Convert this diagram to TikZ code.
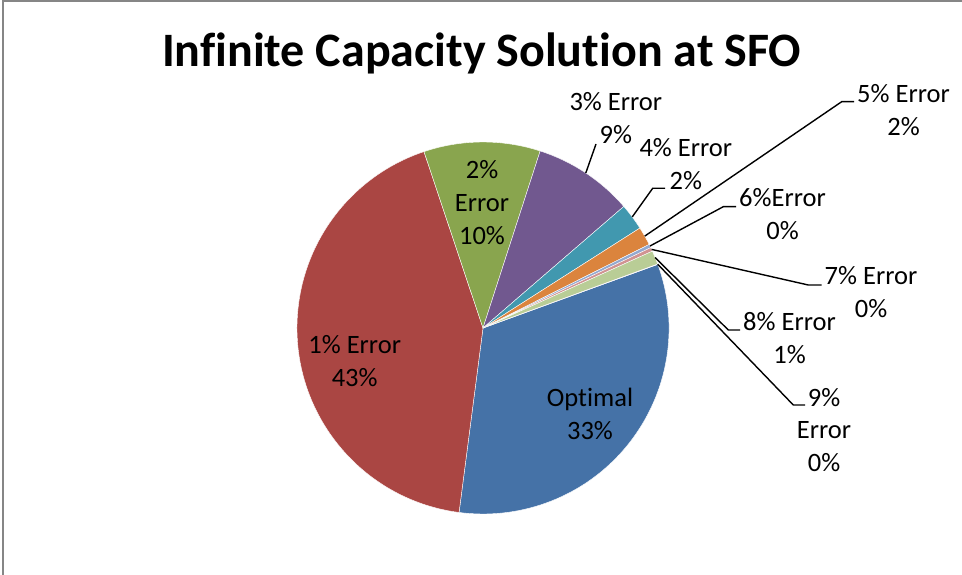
\documentclass[tikz,border=0pt]{standalone}
\usepackage{fontspec}
\setmainfont{Carlito}[Ligatures=NoCommon]
\definecolor{cBlue}{HTML}{4572A7}
\definecolor{cRed}{HTML}{AA4643}
\definecolor{cGreen}{HTML}{89A54E}
\definecolor{cPurple}{HTML}{71588F}
\definecolor{cTeal}{HTML}{4198AF}
\definecolor{cOrange}{HTML}{DB843D}
\definecolor{cLBlue}{HTML}{93A9CF}
\definecolor{cPink}{HTML}{D19392}
\definecolor{cLGreen}{HTML}{B9CD96}
\definecolor{cLPurple}{HTML}{A99BBD}
\definecolor{frame}{HTML}{868686}
\newcommand{\pieslice}[3]{%
  \fill[#3, draw=white, line width=0.4pt] (pc) -- ++(#1:186) arc[start angle=#1, end angle=#2, radius=186] -- cycle;}
\begin{document}
\begin{tikzpicture}[x=1pt,y=1pt,
  lab/.style={font=\fontsize{26.5}{32.8}\selectfont, align=center, inner sep=0pt, anchor=base},
  leader/.style={draw=black, line width=1.4pt},
  border/.style={draw=frame, line width=2pt}]
\useasboundingbox (0,0) rectangle (962,-575);
\draw[border] (2.5,-575) -- (2.5,-1) -- (962,-1);
\node[font=\fontsize{48}{56}\selectfont\bfseries, inner sep=0pt, anchor=base] (title) at (481.5,-67) {Infinite Capacity Solution at SFO};
\coordinate (pc) at (483,-328);
% slices, clockwise
\pieslice{20}{-97.4}{cBlue}
\pieslice{-97.4}{-251.5}{cRed}
\pieslice{108.5}{72.1}{cGreen}
\pieslice{72.1}{40.8}{cPurple}
\pieslice{40.8}{32.5}{cTeal}
\pieslice{32.5}{26.7}{cOrange}
\pieslice{26.7}{25.6}{cLBlue}
\pieslice{25.6}{24.4}{cPink}
\pieslice{24.4}{20.1}{cLGreen}
\pieslice{20.1}{20}{cLPurple}
% inside labels (anchor = baseline of last line)
\node[lab] (lopt) at (590,-439) {Optimal\\33\%};
\node[lab] (l1) at (354.7,-386.7) {1\% Error\\43\%};
\node[lab] (l2) at (482,-244.3) {2\%\\Error\\10\%};
% outside labels
\node[lab] (l3) at (615.8,-143.3) {3\% Error\\9\%};
\node[lab] (l4) at (685.8,-189.3) {4\% Error\\2\%};
\node[lab] (l5) at (903.5,-135.5) {5\% Error\\2\%};
\node[lab] (l6) at (782.5,-239.3) {6\%Error\\0\%};
\node[lab] (l7) at (871,-317.3) {7\% Error\\0\%};
\node[lab] (l8) at (789.5,-363.3) {8\% Error\\1\%};
\node[lab] (l9) at (824,-471.7) {9\%\\Error\\0\%};
% leader anchor points on slices
\path (pc) ++(56.45:186) coordinate (s3);
\path (pc) ++(36.65:186) coordinate (s4);
\path (pc) ++(29.6:186) coordinate (s5);
\path (pc) ++(26.15:186) coordinate (s6);
\path (pc) ++(25:186) coordinate (s7);
\path (pc) ++(22.25:186) coordinate (s8);
\path (pc) ++(20.05:186) coordinate (s9);
\coordinate (e3) at (596,-144);
\coordinate (e4) at (652.7,-188.3); \coordinate (t4) at (665,-188.3);
\coordinate (e5) at (841.7,-101.7); \coordinate (t5) at (854,-101.7);
\coordinate (e6) at (723.3,-206.7); \coordinate (t6) at (736,-206.7);
\coordinate (e7) at (808.3,-285);   \coordinate (t7) at (821.7,-285);
\coordinate (e8) at (728.3,-330);   \coordinate (t8) at (740,-330);
\coordinate (e9) at (793.3,-405);   \coordinate (t9) at (805,-405);
\draw[leader] (s3) -- (e3);
\draw[leader] (s4) -- (e4) -- (t4);
\draw[leader] (s5) -- (e5) -- (t5);
\draw[leader] (s6) -- (e6) -- (t6);
\draw[leader] (s7) -- (e7) -- (t7);
\draw[leader] (s8) -- (e8) -- (t8);
\draw[leader] (s9) -- (e9) -- (t9);
\end{tikzpicture}
\end{document}
